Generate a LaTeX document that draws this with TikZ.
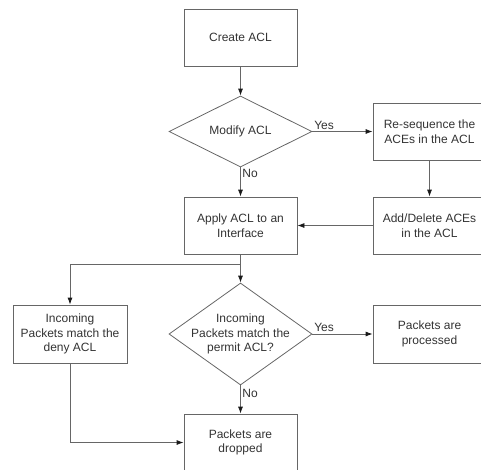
\documentclass[tikz,border=0pt]{standalone}
\usepackage{fontspec}
\setmainfont{Liberation Sans}
\usetikzlibrary{shapes.geometric}
\usetikzlibrary{arrows.meta}

\begin{document}
\begin{tikzpicture}[x=1pt,y=-1pt,
  line/.style={draw=black!60,line width=0.8pt},
  flow/.style={line,-{Latex[length=7pt,width=5pt,black!90]}},
  box/.style={line,rectangle,minimum width=113pt,minimum height=57pt,
    inner sep=1pt,align=center,text=black!80,font=\fontsize{12}{14.5}\selectfont},
  choice/.style={line,diamond,inner sep=0pt,minimum width=143pt},
  answer/.style={inner sep=1.5pt,text=black!80,font=\fontsize{12}{14}\selectfont}]
\useasboundingbox (0,0) rectangle (481,469);
\clip (0,0) rectangle (481,469);

\node[box] (create) at (240.5,37.5) {Create ACL};
\node[choice,minimum height=71pt,label={[box,draw=none]center:Modify ACL}]
  (modify) at (240.5,131.5) {};
\node[box] (reseq) at (429.5,131.5) {Re-sequence the\\ACEs in the ACL};
\node[box] (adddel) at (429.5,225.5) {Add/Delete ACEs\\in the ACL};
\node[box] (apply) at (240.5,225.5) {Apply ACL to an\\Interface};
\coordinate (split) at (240.5,264);
\node[box,minimum width=114pt,minimum height=58pt] (deny) at (70,334)
  {Incoming\\Packets match the\\deny ACL};
\node[choice,minimum height=102pt,
  label={[box,draw=none]center:Incoming\\Packets match the\\permit ACL?}]
  (permit) at (240.5,334) {};
\node[box,minimum height=58pt] (processed) at (429.5,334) {Packets are\\processed};
\node[box] (dropped) at (240.5,442.5) {Packets are\\dropped};

\draw[flow] (create) -- (modify);
\draw[flow] (modify.east) -- (reseq.west) node[answer,pos=0,anchor=south west]{Yes};
\draw[flow] (modify.south) -- (apply.north) node[answer,pos=0.2,anchor=west]{No};
\draw[flow] (reseq) -- (adddel);
\draw[flow] (adddel.west) -- (apply.east);
\draw[line] (apply.south) -- (split);
\draw[flow] (split) -- (permit.north);
\draw[flow] (split) -| (deny.north);
\draw[flow] (permit.east) -- (processed.west) node[answer,pos=0,anchor=south west]{Yes};
\draw[flow] (permit.south) -- (dropped.north) node[answer,pos=0.3,anchor=west]{No};
\draw[flow] (deny.south) |- (dropped.west);
\end{tikzpicture}
\end{document}
